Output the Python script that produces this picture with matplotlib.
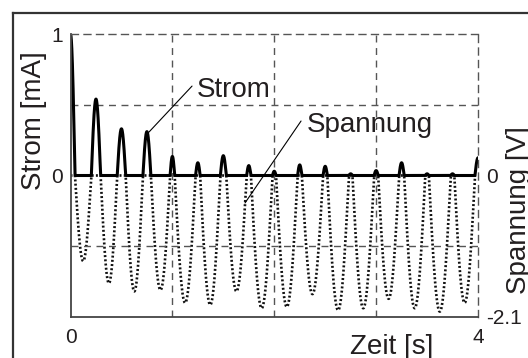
import numpy as np
import matplotlib
matplotlib.use("Agg")
import matplotlib.pyplot as plt
from matplotlib.lines import Line2D

plt.rcParams['font.family'] = ['Liberation Sans', 'DejaVu Sans']

# Strompulse: Zeitpunkt [s], Spitzenwert [mA], Basisbreite [s]
puls_zeit = [0.0, 0.25, 0.5, 0.75, 1.0, 1.25, 1.5, 1.75, 2.0,
             2.25, 2.5, 2.75, 3.0, 3.25, 3.5, 3.75, 4.0]
puls_strom = [1.0, 0.54, 0.33, 0.31, 0.135, 0.09, 0.14, 0.07, 0.03,
              0.075, 0.065, 0.012, 0.035, 0.09, 0.012, 0.012, 0.125]
puls_breite = [0.088, 0.091, 0.083, 0.078, 0.045, 0.045, 0.058, 0.042, 0.035,
               0.042, 0.042, 0.035, 0.04, 0.05, 0.035, 0.035, 0.06]

# Spannungsminima zwischen zwei Pulsen [V]
spannung_min = [-1.27, -1.60, -1.72, -1.70, -1.89, -1.92, -1.72, -1.97,
                -1.95, -1.76, -2.00, -1.97, -1.83, -1.97, -2.02, -1.89]

x_ticks = [0, 4]
strom_ticks = [0, 1]
spannung_ticks = [-2.1, 0]
spannung_ticklabels = ['-2.1', '0']

TEXT = '#231f20'
GRID = '#555555'

t = np.linspace(0, 4, 8001)
strom = np.zeros_like(t)
for tc, p, w in zip(puls_zeit, puls_strom, puls_breite):
    m = np.abs(t - tc) <= w / 2
    strom[m] = p * np.cos(np.pi * (t[m] - tc) / w)

spannung = np.zeros_like(t)
for k, vmin in enumerate(spannung_min):
    a = puls_zeit[k] + puls_breite[k] / 2
    b = puls_zeit[k + 1] - puls_breite[k + 1] / 2
    m = (t > a) & (t < b)
    spannung[m] = vmin * np.sin(np.pi * (t[m] - a) / (b - a))

W, H = 528, 358
fig = plt.figure(figsize=(W / 100, H / 100), dpi=100)
ax = fig.add_axes([70.5 / W, 1 - 317 / H, 407.5 / W, 283 / H])
ax2 = ax.twinx()
ax.set_zorder(ax2.get_zorder() + 1)
ax.patch.set_visible(False)

ax2.plot(t, spannung, color='#111111', lw=1.9, linestyle=(0, (0.75, 0.85)))
ax.plot(t, strom, color='black', lw=2.2, solid_joinstyle='round')

ax.set_xlim(0, 4)
ax.set_ylim(-1, 1)
ax2.set_ylim(-2.1, 2.1)

ax.set_xticks(x_ticks)
ax.set_xticklabels([str(v) for v in x_ticks])
ax.set_yticks(strom_ticks)
ax.set_yticklabels([str(v) for v in strom_ticks])
ax2.set_yticks(spannung_ticks)
ax2.set_yticklabels(spannung_ticklabels)

ax.set_xticks([1, 2, 3], minor=True)
ax.set_yticks([-0.5, 0.5], minor=True)
ax.grid(which='minor', color=GRID, lw=1.0, linestyle=(0, (5, 4)))

ax.tick_params(which='both', length=0, labelsize=15, colors=TEXT)
ax.tick_params(axis='y', pad=5.5)
ax.tick_params(axis='x', pad=8)
ax2.tick_params(length=0, labelsize=15, colors=TEXT, pad=6)

for s in ['left', 'bottom']:
    ax.spines[s].set_color('#444444')
    ax.spines[s].set_linewidth(1.3)
for s in ['top', 'right']:
    ax.spines[s].set_color(GRID)
    ax.spines[s].set_linewidth(1.0)
    ax.spines[s].set_linestyle((0, (5, 4)))
for s in ax2.spines.values():
    s.set_visible(False)

# Beschriftungen mit Hinweislinien
ax.annotate('', xy=(0.761, 0.30), xytext=(1.193, 0.632),
            arrowprops=dict(arrowstyle='-', color='black', lw=0.8,
                            shrinkA=0, shrinkB=0))
ax.text(1.242, 0.555, 'Strom', fontsize=20, color=TEXT,
        ha='left', va='baseline')
ax.annotate('', xy=(1.713, -0.194), xytext=(2.263, 0.385),
            arrowprops=dict(arrowstyle='-', color='black', lw=0.8,
                            shrinkA=0, shrinkB=0))
ax.text(2.321, 0.31, 'Spannung', fontsize=20, color=TEXT,
        ha='left', va='baseline')

# Achsentitel (im Original am Bildrand angeschnitten)
fig.text(41 / W, 1 - 120.5 / H, 'Strom [mA]', fontsize=20, color=TEXT,
         rotation=90, rotation_mode='anchor', ha='center', va='baseline')
fig.text(526.5 / W, 1 - 210.5 / H, 'Spannung [V]', fontsize=20, color=TEXT,
         rotation=90, rotation_mode='anchor', ha='center', va='baseline')
fig.text(391.5 / W, 1 - 354 / H, 'Zeit [s]', fontsize=20, color=TEXT,
         ha='center', va='baseline')

# Rahmen links und oben
fig.add_artist(Line2D([13 / W, 13 / W], [0, 1 - 13 / H], color='#333333',
                      lw=1.6, transform=fig.transFigure))
fig.add_artist(Line2D([13 / W, 1], [1 - 13 / H, 1 - 13 / H], color='#333333',
                      lw=1.6, transform=fig.transFigure))

fig.savefig('out.png', dpi=100)
